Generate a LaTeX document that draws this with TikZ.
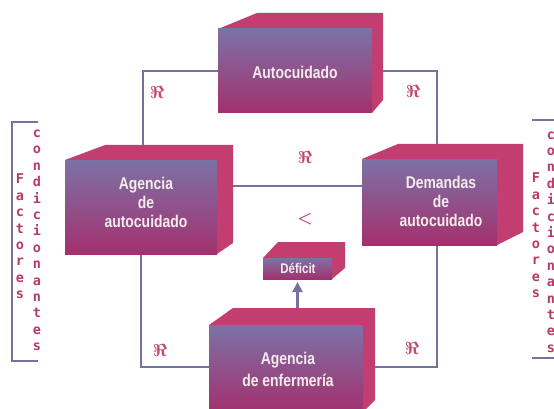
\documentclass[tikz,border=0pt]{standalone}
\usepackage{fontspec}
\usepackage{bm}
\setmainfont{Liberation Sans}
\newfontfamily\boxfont[FakeStretch=0.82]{Liberation Sans}
\newfontfamily\stackfont{DejaVu Sans Mono}
\usetikzlibrary{arrows.meta,calc}

\definecolor{facetop}{HTML}{7C72A6}
\definecolor{facemid}{HTML}{8C5290}
\definecolor{facebot}{HTML}{A3306E}
\definecolor{sidec}{HTML}{C23E70}
\definecolor{linec}{HTML}{7472A0}
\definecolor{symc}{HTML}{C24A6E}
\definecolor{txtc}{HTML}{F4ECEC}
\definecolor{lettc}{HTML}{B83A68}

% x1,y1,x2,y2,backleftx,backtopy,backrightx,backbottomy
\newcommand\drawcube[8]{%
  \fill[sidec] (#1,#2) -- (#5,#6) -- (#7,#6) -- (#7,#8) -- (#3,#4) -- (#3,#2) -- cycle;
  \shade[top color=facetop, middle color=facemid, bottom color=facebot] (#1,#2) rectangle (#3,#4);
}

\tikzset{
  face/.style={draw=none, inner sep=0pt, outer sep=0pt},
  conn/.style={draw=linec, line width=1.5pt},
  brk/.style={draw=linec, line width=1.4pt},
  boxtext/.style={text=txtc, align=center, inner sep=0pt,
    font=\boxfont\bfseries\fontsize{17}{19}\selectfont},
  relsym/.style={text=symc, inner sep=0pt, font=\fontsize{17}{17}\selectfont},
  stack/.style={text=lettc, align=center, inner sep=0pt,
    font=\stackfont\bfseries\fontsize{13.5}{16.4}\selectfont},
}

\begin{document}
\begin{tikzpicture}[x=1pt, y=-1pt]
\useasboundingbox (0,0) rectangle (554,409);
\fill[white] (0,0) rectangle (554,409);
\clip (0,0) rectangle (554,409);

% invisible front faces (named)
\node[face, minimum width=154pt, minimum height=84pt] (auto) at (295,71) {};
\node[face, minimum width=152pt, minimum height=94pt] (agencia) at (141,207) {};
\node[face, minimum width=135pt, minimum height=86pt] (demandas) at (429.5,202) {};
\node[face, minimum width=154pt, minimum height=84pt] (enf) at (286,367) {};
\node[face, minimum width=69pt, minimum height=21pt] (deficit) at (297.5,268.5) {};

% connectors
\draw[conn] (auto.west) -| ([xshift=2pt]agencia.north);
\draw[conn] (auto.east) -| ([xshift=7.5pt]demandas.north);
\draw[conn] (agencia.south) |- (enf.west);
\draw[conn] ([xshift=7.5pt]demandas.south) |- (enf.east);
\draw[conn] ([yshift=21pt]agencia.east) -- ([yshift=21pt]agencia.east -| demandas.west);
\draw[conn, line width=2.2pt, -{Triangle[length=10pt,width=10pt]}, shorten >=3pt]
  (enf.north -| deficit.south) -- (deficit.south);

% cubes
\drawcube{218}{29}{372}{113}{257}{13}{383}{100}
\drawcube{65}{160}{217}{254}{105}{145}{233}{243}
\drawcube{362}{159}{497}{245}{398}{144}{523}{232}
\drawcube{209}{325}{363}{412}{233}{308}{375}{400}
\drawcube{263}{258}{332}{279}{278}{242}{345}{268}

% box texts
\node[boxtext] (tauto) at (295,72) {Autocuidado};
\node[boxtext] (tagencia) at (146,202) {Agencia\\de\\autocuidado};
\node[boxtext] (tdemandas) at (441,201) {Demandas\\de\\autocuidado};
\node[boxtext, font=\boxfont\bfseries\fontsize{17}{22}\selectfont] (tenf) at (288,369) {Agencia\\de enfermería};
\node[boxtext, font=\boxfont\bfseries\fontsize{14}{14}\selectfont] (tdef) at (298,268) {Déficit};

% relation symbols
\node[relsym] (r1) at (157,93) {$\bm{\Re}$};
\node[relsym] (r2) at (413,92) {$\bm{\Re}$};
\node[relsym] (r3) at (305,158) {$\bm{\Re}$};
\node[relsym] (r4) at (160,350) {$\bm{\Re}$};
\node[relsym] (r5) at (412,348) {$\bm{\Re}$};
\node[relsym, font=\fontsize{17}{17}\selectfont] (lt) at (305,219) {$\bm{<}$};

% brackets
\draw[brk] (38,122) -- (12,122) -- (12,361) -- (38,361);
\draw[brk] (532,120) -- (560,120) -- (560,358) -- (532,358);

% side labels
\node[stack] (lcond) at (37,240.5) {c\\o\\n\\d\\i\\c\\i\\o\\n\\a\\n\\t\\e\\s};
\node[stack] (lfac) at (20,236.5) {F\\a\\c\\t\\o\\r\\e\\s};
\node[stack] (rfac) at (536,235.5) {F\\a\\c\\t\\o\\r\\e\\s};
\node[stack] (rcond) at (551,242) {c\\o\\n\\d\\i\\c\\i\\o\\n\\a\\n\\t\\e\\s};
\end{tikzpicture}
\end{document}
